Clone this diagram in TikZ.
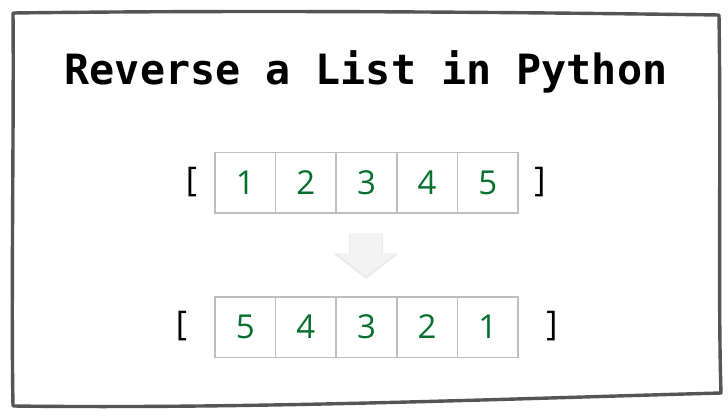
\documentclass[tikz,border=0pt]{standalone}
\usepackage{fontspec}
\newfontfamily\codefont{DejaVu Sans Mono}
\newfontfamily\cellfont{Open Sans}
\definecolor{framegray}{RGB}{85,85,85}
\definecolor{cellgray}{RGB}{190,190,190}
\definecolor{numgreen}{RGB}{5,112,45}
\definecolor{arrowfill}{RGB}{243,243,243}
\definecolor{arrowshade}{RGB}{234,234,234}
\tikzset{
    cell/.style={draw=cellgray, line width=1.6pt, minimum width=60.6pt, minimum height=60.6pt,
        inner sep=0pt, text=numgreen, font=\cellfont\fontsize{33}{36}\selectfont},
    brack/.style={inner sep=0pt, font=\cellfont\fontsize{34}{36}\selectfont}
}

\begin{document}
\begin{tikzpicture}[x=1pt, y=-1pt]
            \useasboundingbox (0,0) rectangle (728,414);
            % sketchy frame
            \draw[framegray, line width=3.4pt, line join=round]
                (13,13) .. controls (250,10) and (500,12) .. (719,15)
                .. controls (721,150) and (718,300) .. (721,393)
                .. controls (500,399) and (250,409) .. (13,406)
                .. controls (11,300) and (14,120) .. cycle;
            \node[font=\codefont\bfseries\fontsize{41.7}{48}\selectfont] (title) at (366,72) {Reverse a List in Python};
            % lists
            \foreach \n [count=\i] in {1,2,3,4,5} {
                \node[cell] (a\i) at ({215+60.6*(\i-0.5)}, 183) {\n};
            }
            \foreach \n [count=\i] in {5,4,3,2,1} {
                \node[cell] (b\i) at ({215+60.6*(\i-0.5)}, 327) {\n};
            }
            \node[brack] (la) at (191.5,182) {[};
            \node[brack] (ra) at (540,182) {]};
            \node[brack] (lb) at (181.5,326) {[};
            \node[brack] (rb) at (552,326) {]};
            % arrow
            \fill[arrowshade] (349,234) -- (383,234) -- (383,254) -- (398,254) -- (366,279) -- (334,254) -- (349,254) -- cycle;
            \fill[arrowfill] (350,233) -- (382,233) -- (382,253) -- (396,253) -- (366,276.5) -- (336,253) -- (350,253) -- cycle;
        \end{tikzpicture}
\end{document}
